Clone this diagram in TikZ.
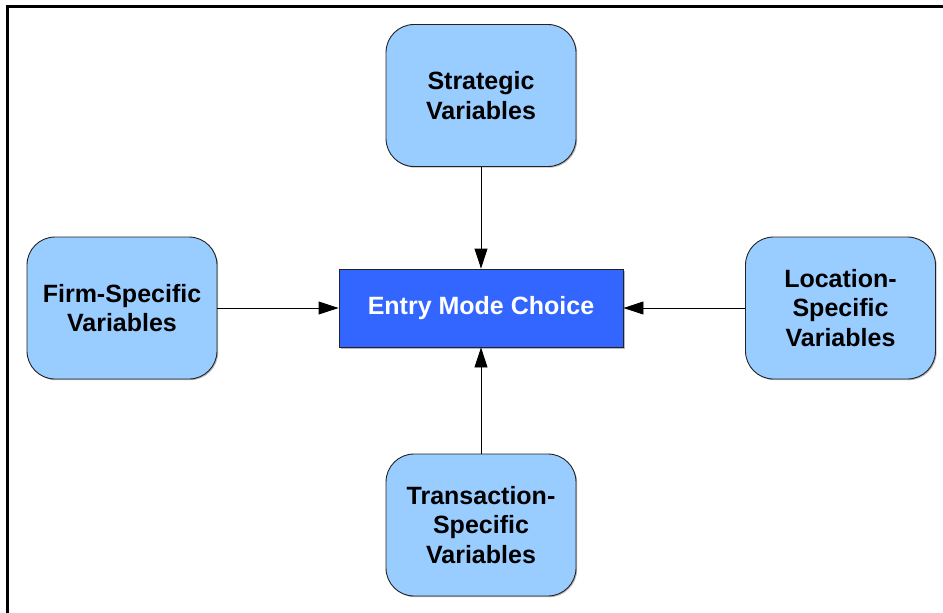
\documentclass[tikz,border=0pt]{standalone}
\usepackage{fontspec}
\setmainfont{Liberation Sans}
\usetikzlibrary{arrows.meta,shadows}
\definecolor{varfill}{HTML}{99CCFF}
\definecolor{choicefill}{HTML}{3366FF}
\definecolor{edgegray}{HTML}{222222}
\begin{document}
\begin{tikzpicture}[x=1pt,y=-1pt,
  varbox/.style={draw=edgegray,line width=0.9pt,fill=varfill,rounded corners=28pt,
    minimum width=190pt,minimum height=142pt,inner sep=0pt,align=center,
    font=\bfseries\fontsize{25}{29.5}\selectfont,
    drop shadow={shadow xshift=1.2pt,shadow yshift=-1.2pt,fill=black!45,opacity=0.6}},
  choicebox/.style={draw=edgegray,line width=0.9pt,fill=choicefill,text=white,
    minimum width=284pt,minimum height=78pt,inner sep=0pt,align=center,
    font=\bfseries\fontsize{25}{29.5}\selectfont,
    drop shadow={shadow xshift=1.5pt,shadow yshift=-1.5pt,fill=black!45,opacity=0.6}},
  link/.style={line width=0.9pt,-{Triangle[length=20pt,width=13pt]}}]
\useasboundingbox (0,0) rectangle (943,613);
% frame
\draw[line width=3pt,line join=miter] (7.5,613) -- (7.5,6.5) -- (943,6.5);
% nodes
\node[choicebox] (choice) at (481,308) {Entry Mode Choice};
\node[varbox] (strat) at (481,95.5) {Strategic\\Variables};
\node[varbox] (firm) at (122,308) {Firm-Specific\\Variables};
\node[varbox] (loc) at (840.5,308) {Location-\\Specific\\Variables};
\node[varbox] (trans) at (481,525) {Transaction-\\Specific\\Variables};
% connectors
\draw[link] (strat.south) -- (choice.north);
\draw[link] (trans.north) -- (choice.south);
\draw[link] (firm.east) -- (choice.west);
\draw[link] (loc.west) -- (choice.east);
\end{tikzpicture}
\end{document}
